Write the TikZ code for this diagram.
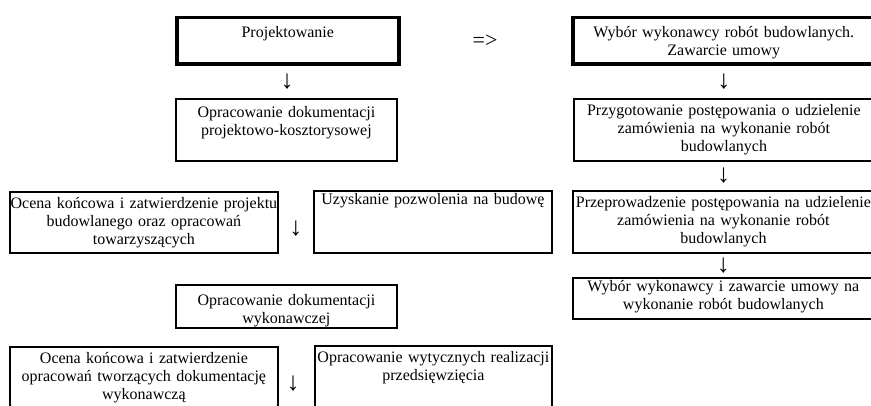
\documentclass[tikz,border=0pt]{standalone}
\usepackage{fontspec}
\setmainfont{Liberation Serif}
\usetikzlibrary{calc}
\newcommand{\boxfont}{\fontsize{16}{18}\selectfont}
\newcommand{\arrfont}{\fontsize{26}{26}\selectfont}

\begin{document}
\begin{tikzpicture}[
    x=1pt, y=-1pt,
    every node/.style={font=\boxfont},
    box/.style ={draw, line width=1.8pt, inner sep=0pt, align=center,
                 anchor=north west},
    lead/.style={box, line width=3.6pt},
    sz/.style n args={3}{text width=#1pt, text height=#2pt, text depth=#3pt},
    arr/.style ={inner sep=0pt, font=\arrfont},
]
\clip (0,0) rectangle (871,406);
% left column
\node[lead, sz={222}{20}{26.5}] (proj)   at (175,15.7) {Projektowanie};
\node[box,  sz={221}{19}{43}]   (dokpk)  at (175,98)   {Opracowanie dokumentacji\\ projektowo-kosztorysowej};
\node[box,  sz={268}{17}{44}]   (ocena1) at (9,191)    {Ocena końcowa i zatwierdzenie projektu\\ budowlanego oraz opracowań\\ towarzyszących};
\node[box,  sz={238}{14}{48}]   (pozw)   at (313,190)  {Uzyskanie pozwolenia na budowę};
\node[box,  sz={221}{21}{22}]   (dokwyk) at (175,284)  {Opracowanie dokumentacji\\ wykonawczej};
\node[box,  sz={268}{17}{63}]   (ocena2) at (9,346)    {Ocena końcowa i zatwierdzenie\\ opracowań tworzących dokumentację\\ wykonawczą};
\node[box,  sz={237}{17}{63}]   (wyt)    at (314,345)  {Opracowanie wytycznych realizacji\\ przedsięwzięcia};
% right column
\node[lead, sz={302}{20}{26.5}] (wybor)  at (571,15.7) {Wybór wykonawcy robót budowlanych.\\ Zawarcie umowy};
\node[box,  sz={300}{17}{45}]   (przyg)  at (573,98)   {Przygotowanie postępowania o udzielenie\\ zamówienia na wykonanie robót\\ budowlanych};
\node[box,  sz={301}{17}{45}]   (przep)  at (572,190)  {Przeprowadzenie postępowania na udzielenie\\ zamówienia na wykonanie robót\\ budowlanych};
\node[box,  sz={301}{14}{27}]   (umowa)  at (572,277)  {Wybór wykonawcy i zawarcie umowy na\\ wykonanie robót budowlanych};
% arrows set as text
\node[arr] (a1) at ($(proj.south)!0.5!(dokpk.north)$) {↓};
\node[arr] (a2) at ($(wybor.south)!0.5!(przyg.north)$) {↓};
\node[arr] (a3) at ($(przyg.south)!0.5!(przep.north)$) {↓};
\node[arr] (a4) at ($(przep.south)!0.5!(umowa.north)$) {↓};
\node[arr, yshift=-6pt] (a5) at ($(ocena1.east)!0.5!(pozw.west)$) {↓};
\node[arr] (a6) at (293,384) {↓};
\node[arr, font=\fontsize{22}{22}\selectfont] (go) at (485,41) {=>};
\end{tikzpicture}
\end{document}
